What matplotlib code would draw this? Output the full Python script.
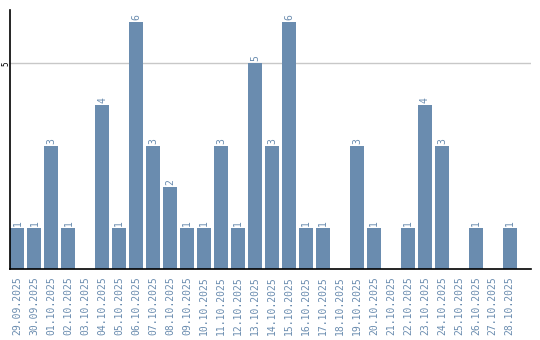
import matplotlib
matplotlib.use("Agg")
import matplotlib.pyplot as plt
import numpy as np

# Anzahl pro Tag
tage = ['29.09.2025', '30.09.2025', '01.10.2025', '02.10.2025', '03.10.2025',
        '04.10.2025', '05.10.2025', '06.10.2025', '07.10.2025', '08.10.2025',
        '09.10.2025', '10.10.2025', '11.10.2025', '12.10.2025', '13.10.2025',
        '14.10.2025', '15.10.2025', '16.10.2025', '17.10.2025', '18.10.2025',
        '19.10.2025', '20.10.2025', '21.10.2025', '22.10.2025', '23.10.2025',
        '24.10.2025', '25.10.2025', '26.10.2025', '27.10.2025', '28.10.2025']
anzahl = [1, 1, 3, 1, 0, 4, 1, 6, 3, 2, 1, 1, 3, 1, 5, 3, 6, 1, 1, 0,
          3, 1, 0, 1, 4, 3, 0, 1, 0, 1]

farbe = '#6a8caf'
schrift = 'DejaVu Sans Mono'

fig = plt.figure(figsize=(5.4, 3.4), dpi=100)
ax = fig.add_axes([0.0194, 0.2088, 0.9636, 0.7618])

x = np.arange(len(tage))
ax.bar(x, anzahl, width=0.82, color=farbe, zorder=2)

# Werte über den Balken
for xi, v in zip(x, anzahl):
    if v > 0:
        ax.text(xi, v + 0.05, str(v), rotation=90, ha='center', va='bottom',
                fontsize=7, family=schrift, color=farbe)

ax.set_xlim(-0.41, 30.24)
ax.set_ylim(0, 6.3)
ax.set_yticks([5])
ax.set_yticklabels(['5'], rotation=90, va='center', fontsize=5.5, family=schrift)
ax.yaxis.grid(True, color='#c8c8c8', linewidth=1, zorder=0)
ax.tick_params(axis='y', length=0, pad=0)

ax.set_xticks(x)
ax.set_xticklabels(tage, rotation=90, fontsize=7, family=schrift, color=farbe)
ax.tick_params(axis='x', length=0, pad=5)

ax.spines['top'].set_visible(False)
ax.spines['right'].set_visible(False)
ax.spines['left'].set_linewidth(1.2)
ax.spines['bottom'].set_linewidth(1.2)

fig.savefig('out.png', dpi=100)
